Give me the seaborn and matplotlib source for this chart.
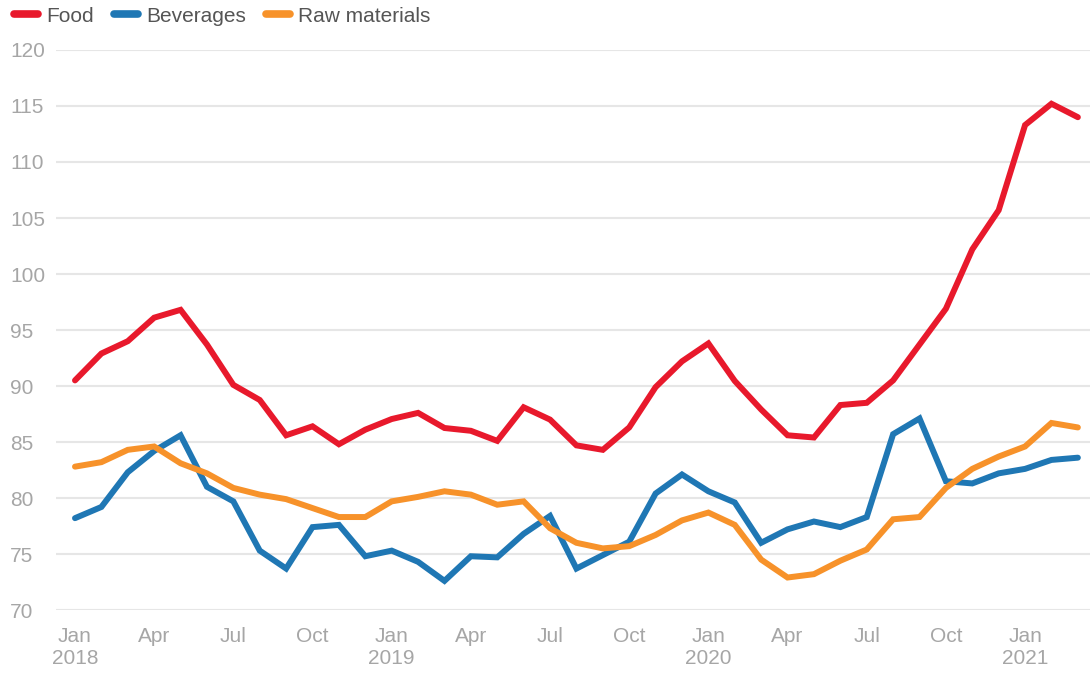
import numpy as np
import pandas as pd
import matplotlib
matplotlib.use("Agg")
import matplotlib.pyplot as plt
import seaborn as sns
from matplotlib.lines import Line2D

months = pd.date_range("2018-01-01", "2021-03-01", freq="MS")

food = [90.5, 92.9, 94.0, 96.1, 96.8, 93.7, 90.1, 88.75, 85.6, 86.4, 84.8, 86.1,
        87.05, 87.6, 86.25, 86.0, 85.1, 88.1, 87.0, 84.7, 84.3, 86.3, 89.9, 92.2,
        93.8, 90.45, 87.9, 85.6, 85.4, 88.3, 88.5, 90.5, 93.7, 96.9, 102.2, 105.7,
        113.3, 115.2, 114.0]
beverages = [78.2, 79.2, 82.3, 84.2, 85.6, 81.0, 79.7, 75.3, 73.7, 77.4, 77.6, 74.8,
             75.3, 74.3, 72.6, 74.8, 74.7, 76.8, 78.4, 73.7, 74.9, 76.1, 80.4, 82.1,
             80.6, 79.6, 76.0, 77.2, 77.9, 77.4, 78.3, 85.7, 87.1, 81.5, 81.3, 82.2,
             82.6, 83.4, 83.6]
raw_materials = [82.8, 83.2, 84.3, 84.6, 83.1, 82.2, 80.9, 80.3, 79.9, 79.1, 78.3, 78.3,
                 79.7, 80.1, 80.6, 80.3, 79.4, 79.7, 77.3, 76.0, 75.5, 75.7, 76.7, 78.0,
                 78.7, 77.6, 74.5, 72.9, 73.2, 74.4, 75.4, 78.1, 78.3, 80.9, 82.6, 83.7,
                 84.6, 86.7, 86.3]

series_names = ["Food", "Beverages", "Raw materials"]
colors = ["#e8192c", "#1f77b4", "#f7922a"]

y_ticks = [70, 75, 80, 85, 90, 95, 100, 105, 110, 115, 120]
x_tick_idx = list(range(0, 39, 3))
x_tick_labels = ["Jan\n2018", "Apr", "Jul", "Oct", "Jan\n2019", "Apr", "Jul", "Oct",
                 "Jan\n2020", "Apr", "Jul", "Oct", "Jan\n2021"]

idx = np.arange(len(months))
df = pd.DataFrame({
    "idx": np.concatenate([idx] * 3),
    "value": food + beverages + raw_materials,
    "series": np.repeat(series_names, len(months)),
})

sns.set_theme(style="white")
plt.rcParams["font.family"] = ["Liberation Sans", "DejaVu Sans"]

fig = plt.figure(figsize=(10.9, 6.74), dpi=100)
ax = fig.add_axes([56 / 1090, (674 - 610) / 674, (1090 - 56) / 1090, 560 / 674])

sns.lineplot(data=df, x="idx", y="value", hue="series", hue_order=series_names,
             palette=colors, linewidth=4.3, ax=ax, legend=False,
             solid_capstyle="round", solid_joinstyle="miter")

ax.set_xlim(-0.72, 38.46)
ax.set_ylim(70, 120)
ax.set_yticks(y_ticks)
ax.set_yticklabels([str(v) for v in y_ticks])
ax.set_xticks(x_tick_idx)
ax.set_xticklabels(x_tick_labels, linespacing=1.25)
ax.yaxis.grid(True, color="#e6e6e6", linewidth=1.5)
ax.set_axisbelow(True)
for s in ax.spines.values():
    s.set_visible(False)
ax.tick_params(axis="both", length=0, labelsize=15, colors="#a6a6a6")
ax.tick_params(axis="x", pad=12)
for lbl in ax.get_yticklabels():
    lbl.set_horizontalalignment("left")
    lbl.set_x(-41 / 1034)
ax.set_xlabel("")
ax.set_ylabel("")
for line in ax.lines:
    line.set_clip_on(False)

handles = [Line2D([0], [0], color=c, linewidth=5.5, solid_capstyle="round") for c in colors]
fig.legend(handles, series_names, loc="upper left", bbox_to_anchor=(-0.004, 1.018),
           ncol=3, frameon=False, fontsize=15, handlelength=1.15, handletextpad=0.4,
           columnspacing=0.95, labelcolor="#555555")

fig.savefig("out.png", dpi=100)
